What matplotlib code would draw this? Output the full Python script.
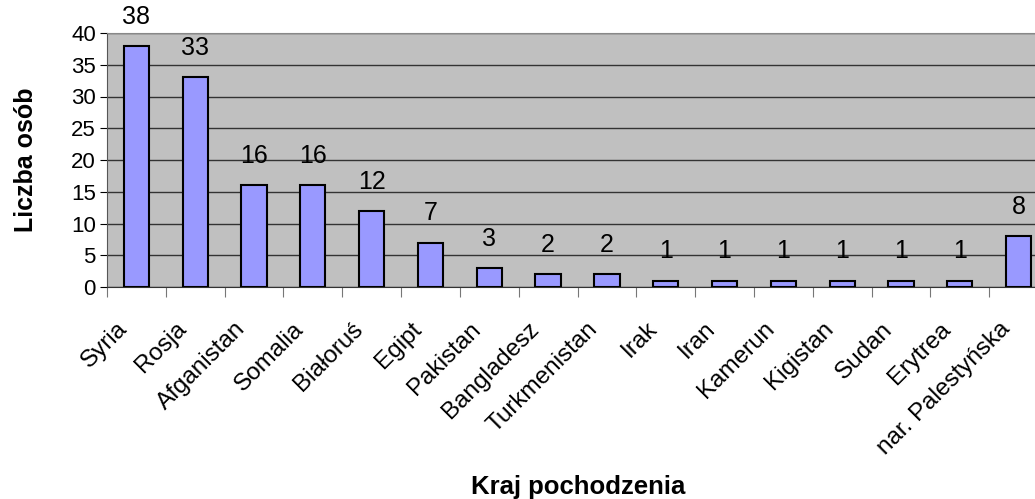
import matplotlib.pyplot as plt
import matplotlib.transforms as mtransforms
import numpy as np

plt.rcParams['font.family'] = ['Liberation Sans', 'DejaVu Sans']

countries = ['Syria', 'Rosja', 'Afganistan', 'Somalia', 'Białoruś', 'Egipt', 'Pakistan',
             'Bangladesz', 'Turkmenistan', 'Irak', 'Iran', 'Kamerun', 'Kigistan', 'Sudan',
             'Erytrea', 'nar. Palestyńska']
counts = [38, 33, 16, 16, 12, 7, 3, 2, 2, 1, 1, 1, 1, 1, 1, 8]

fig = plt.figure(figsize=(10.35, 4.99), dpi=100)
ax = fig.add_axes([107/1035, 212/499, 941/1035, 254/499])
ax.set_facecolor('#c0c0c0')

x = np.arange(len(countries))
ax.bar(x, counts, width=0.43, color='#9999ff', edgecolor='black', linewidth=1.5, zorder=3)

for xi, v in zip(x, counts):
    ax.annotate(str(v), (xi, v), xytext=(0, 21), textcoords='offset points',
                ha='center', va='center', fontsize=18, annotation_clip=False)

ax.set_xlim(-0.5, len(countries) - 0.5)
ax.set_ylim(0, 40)
ax.set_yticks(range(0, 41, 5))
ax.yaxis.grid(True, color='#333333', linewidth=1, zorder=1)
ax.tick_params(axis='y', labelsize=16, length=5, pad=3)

ax.set_xticks(np.arange(-0.5, len(countries)), labels=[])
ax.tick_params(axis='x', which='major', length=7, color='#777777')

# rotated category labels, nudged left/down like the original
off = mtransforms.ScaledTranslation(-20/100, -31/100, fig.dpi_scale_trans)
lbl_tr = mtransforms.blended_transform_factory(ax.transData, ax.transAxes) + off
for xi, name in zip(x, countries):
    ax.text(xi, 0, name, transform=lbl_tr, rotation=45, ha='right', va='top',
            rotation_mode='anchor', fontsize=17.5, clip_on=False)

for s in ['top', 'right']:
    ax.spines[s].set_color('#888888')
ax.spines['left'].set_color('#555555')
ax.spines['bottom'].set_color('#333333')

ax.set_ylabel('Liczba osób', fontsize=18, fontweight='bold', labelpad=24)
fig.text(578/1035, 1 - 487/499, 'Kraj pochodzenia', ha='center', va='center',
         fontsize=18.5, fontweight='bold')

fig.savefig('out.png', dpi=100)
